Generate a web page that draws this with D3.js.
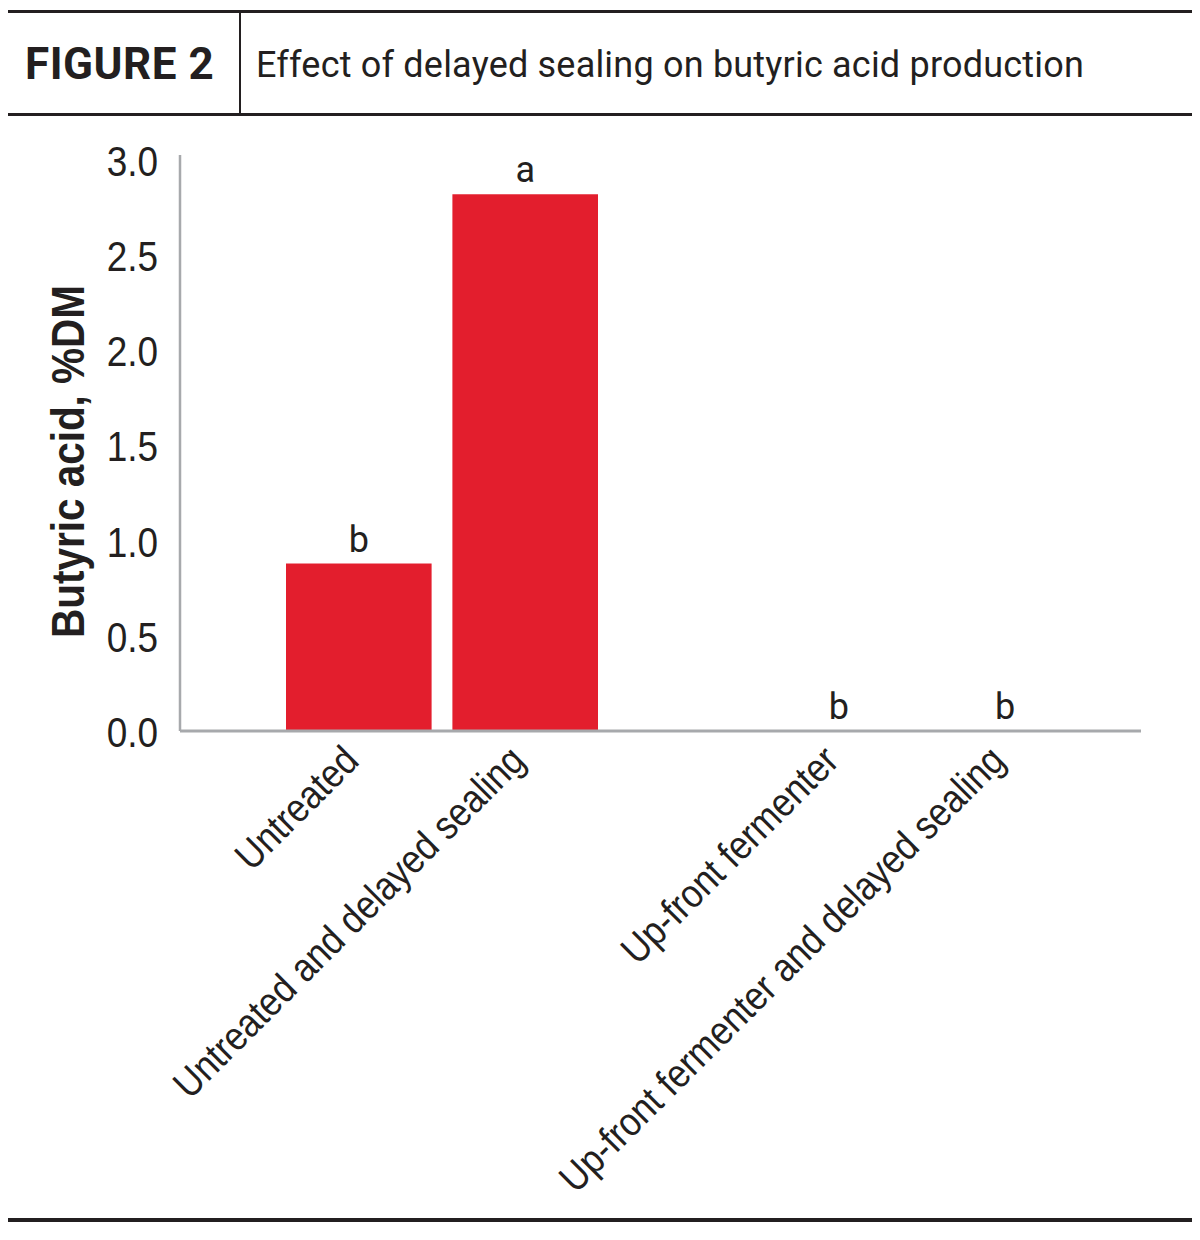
<!DOCTYPE html>
<html>
<head>
<meta charset="utf-8">
<script src="https://cdn.jsdelivr.net/npm/d3@7"></script>
<style>
  body { margin: 0; background: #fff; }
  svg text { fill: #231f20; }
</style>
</head>
<body>
<div id="chart"></div>
<script>
var figureLabel = "FIGURE 2";
var title = "Effect of delayed sealing on butyric acid production";
var yLabel = "Butyric acid, %DM";

// two groups, each with a plain and a delayed-sealing bar
var groups = ["Untreated", "Up-front fermenter"];
var categories = ["Untreated", "Untreated and delayed sealing", "Up-front fermenter", "Up-front fermenter and delayed sealing"];
var categoryGroup = ["Untreated", "Untreated", "Up-front fermenter", "Up-front fermenter"];
var categorySlot = [0, 1, 0, 1];
var values = [0.88, 2.82, 0, 0];
var letters = ["b", "a", "b", "b"];
var yTicks = [0, 0.5, 1, 1.5, 2, 2.5, 3];

var width = 1200, height = 1240;
var data = categories.map(function(c, i) {
  return {name: c, group: categoryGroup[i], slot: categorySlot[i], value: values[i], letter: letters[i]};
});

var svg = d3.select("#chart").append("svg")
  .attr("width", width)
  .attr("height", height);

// header rules
svg.append("rect").attr("x", 8).attr("y", 10).attr("width", 1184).attr("height", 3).attr("fill", "#231f20");
svg.append("rect").attr("x", 8).attr("y", 113).attr("width", 1184).attr("height", 3).attr("fill", "#231f20");
svg.append("rect").attr("x", 239).attr("y", 12).attr("width", 2).attr("height", 102).attr("fill", "#231f20");
svg.append("rect").attr("x", 8).attr("y", 1218).attr("width", 1184).attr("height", 4).attr("fill", "#231f20");

svg.append("text")
  .attr("x", 25).attr("y", 79)
  .attr("font-family", "Roboto, sans-serif")
  .attr("font-weight", 700)
  .attr("font-size", 44)
  .attr("letter-spacing", 0.5)
  .text(figureLabel);

svg.append("text")
  .attr("x", 256).attr("y", 77)
  .attr("font-family", "Roboto, sans-serif")
  .attr("font-size", 36)
  .attr("letter-spacing", 0.2)
  .text(title);

var plotLeft = 180, plotRight = 1141, plotTop = 160, plotBottom = 731;

var y = d3.scaleLinear().domain([0, 3]).range([plotBottom, plotTop]);

var xGroup = d3.scaleBand().domain(groups).range([202, 1162]);
var xInner = d3.scaleBand().domain([0, 1]).range([0, 312]).paddingInner(0.125);

function barX(d) {
  return xGroup(d.group) + xGroup.bandwidth() / 2 - 156 + xInner(d.slot);
}
function barCenter(d) {
  return barX(d) + xInner.bandwidth() / 2;
}

// no narrow face installed, so squeeze Liberation Sans horizontally
var tickFont = "'Liberation Sans', Arial, sans-serif";
var squeeze = 0.88;

// y axis
var yAxis = svg.append("g")
  .attr("transform", "translate(" + plotLeft + ",0)")
  .call(d3.axisLeft(y).tickValues(yTicks).tickFormat(d3.format(".1f")).tickSize(0));
yAxis.select(".domain").attr("stroke", "#a7a9ac").attr("stroke-width", 2.5)
  .attr("d", "M0," + (plotTop - 5) + "V" + plotBottom);
yAxis.selectAll("text")
  .attr("x", 0)
  .attr("transform", "translate(-22,2) scale(" + squeeze + ",1)")
  .attr("font-family", tickFont)
  .attr("font-size", 42)
  .attr("fill", "#231f20");

// bars
svg.selectAll(".bar")
  .data(data)
  .enter().append("rect")
  .attr("class", "bar")
  .attr("x", barX)
  .attr("y", function(d) { return y(d.value); })
  .attr("width", xInner.bandwidth())
  .attr("height", function(d) { return y(0) - y(d.value); })
  .attr("fill", "#e31e2d");

// x axis line
svg.append("line")
  .attr("x1", plotLeft).attr("x2", plotRight)
  .attr("y1", plotBottom).attr("y2", plotBottom)
  .attr("stroke", "#a7a9ac").attr("stroke-width", 3);

// significance letters
svg.selectAll(".letter")
  .data(data)
  .enter().append("text")
  .attr("class", "letter")
  .attr("x", barCenter)
  .attr("y", function(d) { return y(d.value) - 12; })
  .attr("text-anchor", "middle")
  .attr("font-family", "Roboto, sans-serif")
  .attr("font-size", 36)
  .text(function(d) { return d.letter; });

// rotated category labels
svg.selectAll(".xlab")
  .data(data)
  .enter().append("text")
  .attr("class", "xlab")
  .attr("text-anchor", "end")
  .attr("font-family", tickFont)
  .attr("font-size", 40)
  .attr("transform", function(d) {
    return "translate(" + (barCenter(d) + 2) + "," + (plotBottom + 32) + ") rotate(-45) scale(" + squeeze + ",1)";
  })
  .text(function(d) { return d.name; });

// y label
svg.append("text")
  .attr("transform", "translate(84," + ((plotTop + plotBottom) / 2 + 16) + ") rotate(-90) scale(" + squeeze + ",1)")
  .attr("text-anchor", "middle")
  .attr("font-family", tickFont)
  .attr("font-weight", 700)
  .attr("font-size", 46)
  .text(yLabel);
</script>
</body>
</html>
